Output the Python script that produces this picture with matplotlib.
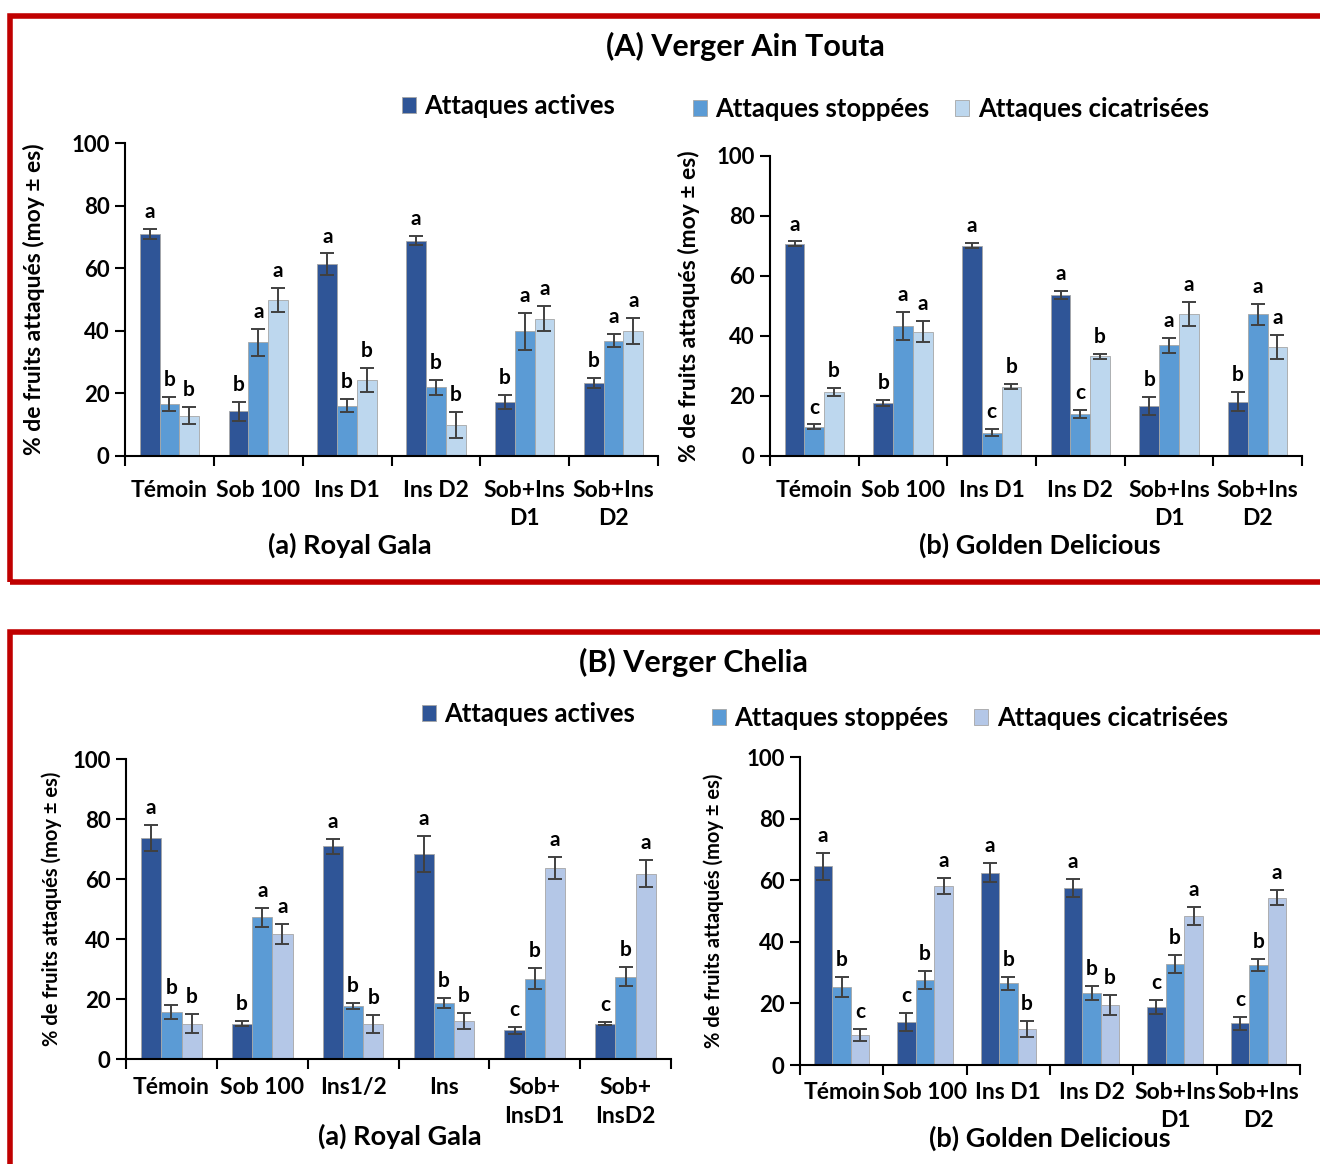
import numpy as np
import matplotlib.pyplot as plt
from matplotlib.patches import Rectangle

plt.rcParams['font.family'] = ['Lato', 'DejaVu Sans']
plt.rcParams['font.weight'] = 'bold'

W, H = 1320, 1164

series = ["Attaques actives", "Attaques stoppées", "Attaques cicatrisées"]

# (A) Verger Ain Touta
cats_A = ["Témoin", "Sob 100", "Ins D1", "Ins D2", "Sob+Ins\nD1", "Sob+Ins\nD2"]

gala_A = [[70.9, 14.3, 61.2, 68.8, 17.3, 23.3],
          [16.7, 36.3, 16.1, 21.9, 39.9, 36.9],
          [12.9, 49.9, 24.3, 9.9, 43.8, 39.9]]
gala_A_err = [[1.7, 3.0, 3.5, 1.5, 2.3, 1.5],
              [2.3, 4.2, 2.2, 2.3, 5.9, 2.1],
              [2.7, 3.8, 3.8, 4.2, 4.0, 4.1]]
gala_A_let = [["a", "b", "a", "a", "b", "b"],
              ["b", "a", "b", "b", "a", "a"],
              ["b", "a", "b", "b", "a", "a"]]

gold_A = [[70.7, 17.6, 70.1, 53.6, 16.6, 18.1],
          [9.7, 43.2, 7.8, 14.1, 36.9, 47.3],
          [21.3, 41.4, 23.1, 33.2, 47.3, 36.4]]
gold_A_err = [[0.8, 1.0, 0.8, 1.3, 3.1, 3.1],
              [0.8, 4.7, 1.3, 1.3, 2.5, 3.5],
              [1.3, 3.5, 0.8, 0.9, 4.0, 4.0]]
gold_A_let = [["a", "b", "a", "a", "b", "b"],
              ["c", "a", "c", "c", "a", "a"],
              ["b", "a", "b", "b", "a", "a"]]

# (B) Verger Chelia
cats_Ba = ["Témoin", "Sob 100", "Ins1/2", "Ins", "Sob+\nInsD1", "Sob+\nInsD2"]
cats_Bb = ["Témoin", "Sob 100", "Ins D1", "Ins D2", "Sob+Ins\nD1", "Sob+Ins\nD2"]

gala_B = [[73.6, 11.8, 70.9, 68.2, 9.6, 11.8],
          [15.6, 47.2, 17.6, 18.7, 26.8, 27.4],
          [11.8, 41.8, 11.8, 12.7, 63.8, 61.8]]
gala_B_err = [[4.3, 0.8, 2.4, 6.0, 1.1, 0.5],
              [2.4, 3.2, 1.0, 1.8, 3.6, 3.2],
              [3.1, 3.3, 3.0, 2.6, 3.7, 4.5]]
gala_B_let = [["a", "b", "a", "a", "c", "c"],
              ["b", "a", "b", "b", "b", "b"],
              ["b", "a", "b", "b", "a", "a"]]

gold_B = [[64.5, 14.1, 62.5, 57.5, 18.8, 13.5],
          [25.3, 27.6, 26.5, 23.3, 32.9, 32.4],
          [9.8, 58.1, 11.7, 19.4, 48.4, 54.3]]
gold_B_err = [[4.3, 2.9, 3.2, 2.9, 2.4, 2.0],
              [3.2, 2.8, 2.1, 2.3, 2.9, 1.9],
              [1.9, 2.6, 2.6, 3.3, 3.0, 2.5]]
gold_B_let = [["a", "c", "a", "a", "c", "c"],
              ["b", "b", "b", "b", "b", "b"],
              ["c", "a", "b", "b", "a", "a"]]

colors_A = ["#2F5597", "#5B9BD5", "#BDD7EE"]
colors_B = ["#2F5597", "#5B9BD5", "#B4C7E7"]


def px_axes(fig, left, top, right, bottom):
    return fig.add_axes([left / W, 1 - bottom / H, (right - left) / W, (bottom - top) / H])


def bar_panel(ax, cats, vals, errs, lets, colors, xpad, ylab_size, ylab_x):
    n = len(cats)
    x = np.arange(n)
    w = 1 / 4.5
    bars = []
    for k in range(3):
        xs = x + (k - 1) * w
        b = ax.bar(xs, vals[k], w, color=colors[k], edgecolor="#a6a6a6", linewidth=0.6)
        bars.append(b)
        ax.errorbar(xs, vals[k], yerr=errs[k], fmt="none", ecolor="#404040",
                    elinewidth=1.4, capsize=5, capthick=1.4)
        for i in range(n):
            ax.annotate(lets[k][i], (xs[i], vals[k][i] + errs[k][i]), xytext=(0, 5),
                        textcoords="offset points", ha="center", va="bottom",
                        fontsize=15, fontweight="bold")
    ax.set_xlim(-0.5, n - 0.5)
    ax.set_ylim(0, 100)
    ax.set_yticks([0, 20, 40, 60, 80, 100])
    ax.set_xticks(x)
    ax.set_xticklabels(cats, fontsize=16.5, fontweight="bold", linespacing=1.45)
    ax.set_xticks(np.arange(n + 1) - 0.5, minor=True)
    ax.tick_params(axis="x", which="major", length=0, pad=xpad)
    ax.tick_params(axis="x", which="minor", length=7, width=1.5, direction="out")
    ax.tick_params(axis="y", length=7, width=1.5, labelsize=16, pad=4)
    for t in ax.get_yticklabels():
        t.set_fontweight("bold")
    for s in ["top", "right"]:
        ax.spines[s].set_visible(False)
    ax.spines["left"].set_linewidth(1.5)
    ax.spines["bottom"].set_linewidth(1.5)
    ax.set_ylabel("% de fruits attaqués (moy ± es)", fontsize=ylab_size, fontweight="bold")
    ax.yaxis.set_label_coords(ylab_x, 0.5)
    return bars


fig = plt.figure(figsize=(W / 100, H / 100), dpi=100)

# red frames
fig.patches.append(Rectangle((10 / W, 1 - 582 / H), 1340 / W, (582 - 16) / H, transform=fig.transFigure,
                             fill=False, edgecolor="#C00000", linewidth=4))
fig.patches.append(Rectangle((10 / W, 1 - 1190 / H), 1340 / W, (1190 - 632) / H, transform=fig.transFigure,
                             fill=False, edgecolor="#C00000", linewidth=4))

ax1 = px_axes(fig, 125, 143, 658, 456)
bA = bar_panel(ax1, cats_A, gala_A, gala_A_err, gala_A_let, colors_A, 17, 16.5, -0.150)
ax2 = px_axes(fig, 770, 156, 1302, 456)
bar_panel(ax2, cats_A, gold_A, gold_A_err, gold_A_let, colors_A, 17, 16.5, -0.132)
ax3 = px_axes(fig, 126, 759, 671, 1059)
bB = bar_panel(ax3, cats_Ba, gala_B, gala_B_err, gala_B_let, colors_B, 13, 14.5, -0.117)
ax4 = px_axes(fig, 800, 757, 1300, 1065)
bar_panel(ax4, cats_Bb, gold_B, gold_B_err, gold_B_let, colors_B, 12, 14.5, -0.152)

fig.text(745 / W, 1 - 46 / H, "(A) Verger Ain Touta", ha="center", va="center", fontsize=22, fontweight="bold")
fig.text(693 / W, 1 - 662 / H, "(B) Verger Chelia", ha="center", va="center", fontsize=22, fontweight="bold")

fig.text(350 / W, 1 - 545 / H, "(a) Royal Gala", ha="center", va="center", fontsize=19.5, fontweight="bold")
fig.text(1040 / W, 1 - 545 / H, "(b) Golden Delicious", ha="center", va="center", fontsize=19.5, fontweight="bold")
fig.text(400 / W, 1 - 1136 / H, "(a) Royal Gala", ha="center", va="center", fontsize=19.5, fontweight="bold")
fig.text(1050 / W, 1 - 1138 / H, "(b) Golden Delicious", ha="center", va="center", fontsize=19.5, fontweight="bold")

leg_kw = dict(frameon=False, handlelength=0.55, handleheight=0.55, handletextpad=0.32,
              columnspacing=1.0, borderaxespad=0, borderpad=0, prop={"weight": "bold", "size": 18.5})
fig.legend([bA[0]], [series[0]], loc="center left", bbox_to_anchor=(402 / W, 1 - 106 / H), **leg_kw)
fig.legend([bA[1], bA[2]], series[1:], loc="center left", bbox_to_anchor=(693 / W, 1 - 109 / H), ncol=2, **leg_kw)
fig.legend([bB[0]], [series[0]], loc="center left", bbox_to_anchor=(422 / W, 1 - 714 / H), **leg_kw)
fig.legend([bB[1], bB[2]], series[1:], loc="center left", bbox_to_anchor=(712 / W, 1 - 718 / H), ncol=2, **leg_kw)

fig.savefig("out.png", dpi=100)
